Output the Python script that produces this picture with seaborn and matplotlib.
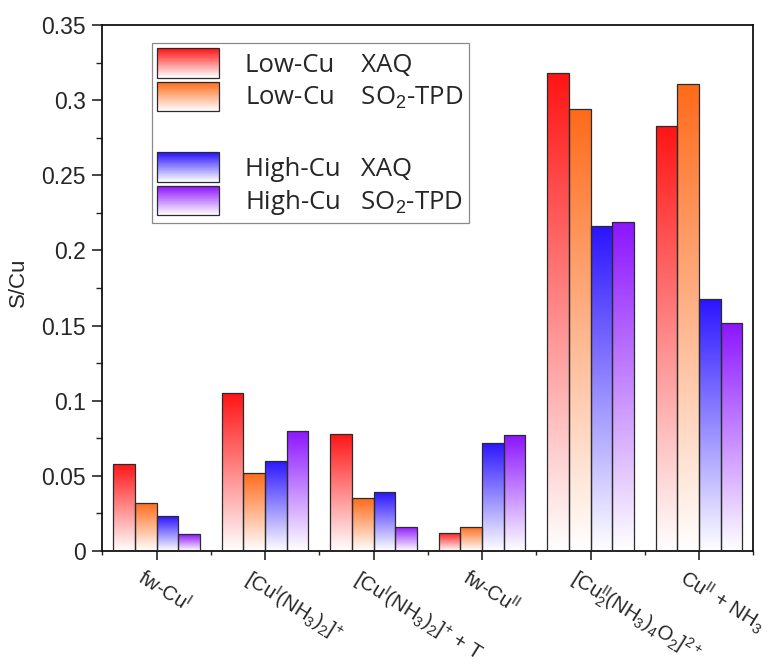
import numpy as np
import pandas as pd
import matplotlib
matplotlib.use("Agg")
import matplotlib.pyplot as plt
import matplotlib.colors as mcolors
import matplotlib.transforms as mtransforms
from matplotlib.patches import Rectangle
from matplotlib.lines import Line2D
from matplotlib.legend_handler import HandlerBase
from matplotlib.ticker import MultipleLocator, FuncFormatter
import seaborn as sns

# ---- data -------------------------------------------------------------
species = [
    r"fw-Cu$^{\mathrm{I}}$",
    r"[Cu$^{\mathrm{I}}$(NH$_3$)$_2$]$^{+}$",
    r"[Cu$^{\mathrm{I}}$(NH$_3$)$_2$]$^{+}$ + T",
    r"fw-Cu$^{\mathrm{II}}$",
    r"[Cu$^{\mathrm{II}}_{2}$(NH$_3$)$_4$O$_2$]$^{2+}$",
    r"Cu$^{\mathrm{II}}$ + NH$_3$",
]
samples = [
    "Low-Cu    XAQ",
    r"Low-Cu    SO$_2$-TPD",
    "High-Cu   XAQ",
    r"High-Cu   SO$_2$-TPD",
]
low_cu_xaq = [0.058, 0.105, 0.078, 0.012, 0.318, 0.283]
low_cu_tpd = [0.032, 0.052, 0.035, 0.016, 0.294, 0.311]
high_cu_xaq = [0.023, 0.060, 0.039, 0.072, 0.216, 0.168]
high_cu_tpd = [0.011, 0.080, 0.016, 0.077, 0.219, 0.152]
top_colors = ["#ff1414", "#ff6a1a", "#2a14ff", "#8c14ff"]

df = pd.DataFrame({
    "species": species * 4,
    "sample": np.repeat(samples, len(species)),
    "S/Cu": low_cu_xaq + low_cu_tpd + high_cu_xaq + high_cu_tpd,
})

# ---- style ------------------------------------------------------------
sns.set_style("ticks")
plt.rcParams["font.family"] = ["Liberation Sans", "DejaVu Sans"]
plt.rcParams["mathtext.fontset"] = "custom"
plt.rcParams["mathtext.rm"] = "Liberation Sans"
plt.rcParams["mathtext.it"] = "Liberation Sans:italic"
plt.rcParams["mathtext.bf"] = "Liberation Sans:bold"

EDGE = "#2b2b2b"


def fade(color, n=256, power=1.0):
    """Colours running from white (row 0) to the full colour (last row)."""
    c = np.array(mcolors.to_rgb(color))
    t = np.linspace(0.0, 1.0, n)[:, None] ** power
    return 1.0 - t * (1.0 - c)


fig = plt.figure(figsize=(7.79, 6.67), dpi=100)
ax = fig.add_axes([0.1313, 0.1739, 0.967 - 0.1313, 0.9625 - 0.1739])

sns.barplot(data=df, x="species", y="S/Cu", hue="sample", hue_order=samples,
            order=species, palette=top_colors, width=0.8, edgecolor=EDGE,
            linewidth=0.9, legend=False, ax=ax, zorder=3)

# vertical white-to-colour fill inside every bar
for container, color in zip(ax.containers, top_colors):
    rgb = fade(color)
    for bar in container.patches:
        x0, y0 = bar.get_x(), bar.get_y()
        w, h = bar.get_width(), bar.get_height()
        img = ax.imshow(rgb[:, None, :], extent=[x0, x0 + w, y0, y0 + h],
                        origin="lower", aspect="auto", interpolation="bilinear",
                        zorder=2.5)
        img.set_clip_path(bar)
        bar.set_facecolor("none")

ax.set_xlim(-0.5, 5.5)
ax.set_ylim(0, 0.35)
ax.set_aspect("auto")

# ---- axes decoration --------------------------------------------------
for side in ["left", "right", "top", "bottom"]:
    ax.spines[side].set_visible(True)
    ax.spines[side].set_linewidth(1.3)
    ax.spines[side].set_color("#111111")

ax.yaxis.set_major_locator(MultipleLocator(0.05))
ax.yaxis.set_minor_locator(MultipleLocator(0.025))
ax.yaxis.set_major_formatter(FuncFormatter(lambda v, _: f"{v:g}"))
ax.tick_params(axis="y", which="major", direction="out", length=7, width=1.2,
               labelsize=16.5, pad=5, right=False)
ax.tick_params(axis="y", which="minor", direction="out", length=4, width=1.0,
               right=False)

ax.set_xticks(range(len(species)))
ax.set_xticks(np.arange(-0.5, 5.6, 1.0), minor=True)
ax.set_xticklabels(species, rotation=-32, ha="left", va="top",
                   rotation_mode="anchor", fontsize=14.5)
ax.tick_params(axis="x", which="major", direction="out", length=6.5, width=1.2,
               pad=4, top=False)
ax.tick_params(axis="x", which="minor", direction="out", length=3, width=1.0,
               top=False)
shift = mtransforms.ScaledTranslation(-11 / 100, 0, fig.dpi_scale_trans)
for lab in ax.get_xticklabels():
    lab.set_transform(lab.get_transform() + shift)

ax.set_xlabel("")
ax.set_ylabel("S/Cu", fontsize=16)
ax.yaxis.set_label_coords(-0.113, 0.51)


# ---- legend with faded swatches ---------------------------------------
class FadeSwatch(HandlerBase):
    def __init__(self, color, n=48):
        super().__init__()
        self.color = color
        self.n = n

    def create_artists(self, legend, orig_handle, xdescent, ydescent,
                       width, height, fontsize, trans):
        rgb = fade(self.color, self.n)
        arts = []
        for i in range(self.n):
            y = -ydescent + height * i / self.n
            arts.append(Rectangle((-xdescent, y), width, height / self.n * 1.05,
                                  facecolor=rgb[i], edgecolor="none",
                                  antialiased=False, transform=trans))
        arts.append(Rectangle((-xdescent, -ydescent), width, height,
                              facecolor="none", edgecolor=EDGE, linewidth=0.9,
                              transform=trans))
        return arts


swatches = [Rectangle((0, 0), 1, 1) for _ in samples]
spacer = Line2D([], [], linestyle="none")
handles = swatches[:2] + [spacer] + swatches[2:]
labels = samples[:2] + [" "] + samples[2:]
hmap = {h: FadeSwatch(c) for h, c in zip(swatches, top_colors)}

leg = ax.legend(handles, labels, handler_map=hmap, loc="upper left",
                bbox_to_anchor=(151.7 / 779, 1 - 42.7 / 667),
                bbox_transform=fig.transFigure, borderaxespad=0,
                prop={"family": "Open Sans", "size": 18.5},
                handlelength=2.4, handleheight=1.38,
                handletextpad=1.0, labelspacing=0.16, borderpad=0.22,
                frameon=True, fancybox=False, framealpha=1)
leg.get_texts()[2].set_fontsize(23.5)
leg.get_frame().set_edgecolor("#8a8a8a")
leg.get_frame().set_linewidth(0.9)
leg.set_zorder(5)

fig.savefig("out.png", dpi=100)
